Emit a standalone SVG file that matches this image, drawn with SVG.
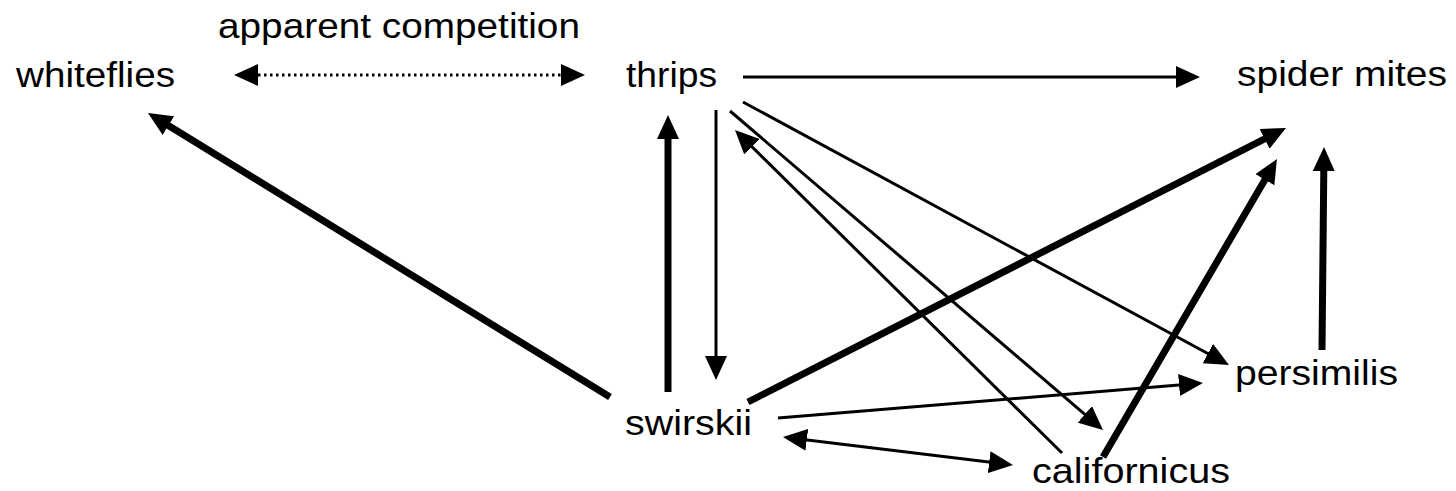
<svg xmlns="http://www.w3.org/2000/svg" width="1456" height="491" viewBox="0 0 1456 491">
<style>
text{font-family:"Liberation Sans",Arial,sans-serif;font-size:35px;fill:#000}
.c{fill:none;stroke:#000;stroke-linecap:butt}
.thin{stroke-width:3;marker-end:url(#ah)}
.thick{stroke-width:7;marker-end:url(#ah)}
.both{marker-start:url(#ah);marker-end:url(#ah)}
.dot{stroke-width:3;stroke-dasharray:2.5 3.5}
</style>
<defs>
<marker id="ah" markerUnits="userSpaceOnUse" markerWidth="24" markerHeight="22" refX="12" refY="11" orient="auto-start-reverse" viewBox="0 0 24 22">
<path d="M0,0 L24,11 L0,22 z" fill="#000"/>
</marker>
</defs>
<rect width="1456" height="491" fill="#fff"/>
<g id="connectors">
<line class="c dot both" x1="246" y1="75" x2="573" y2="75"/>
<line class="c thin" x1="743" y1="77" x2="1188" y2="77"/>
<line class="c thin" x1="716" y1="110" x2="716" y2="368"/>
<line class="c thick" x1="668" y1="392" x2="668" y2="127"/>
<line class="c thin" x1="730" y1="111" x2="1093.9" y2="422.2"/>
<line class="c thin" x1="1062" y1="453" x2="743.5" y2="138.4"/>
<line class="c thin" x1="743" y1="102" x2="1218.4" y2="359.3"/>
<line class="c thick" x1="748" y1="402" x2="1275.3" y2="133.4"/>
<line class="c thin" x1="778" y1="418" x2="1191" y2="384"/>
<line class="c thin both" x1="794.9" y1="438.4" x2="1001.1" y2="463.6"/>
<line class="c thick" x1="1103" y1="457" x2="1270.9" y2="169.4"/>
<line class="c thick" x1="1322" y1="350" x2="1323.9" y2="159"/>
<line class="c thick" x1="610" y1="397" x2="158.2" y2="119.3"/>
</g>
<g id="label-apparent"><text x="218" y="38" textLength="362" lengthAdjust="spacingAndGlyphs">apparent competition</text></g>
<g id="node-whiteflies"><text x="16" y="87" textLength="159" lengthAdjust="spacingAndGlyphs">whiteflies</text></g>
<g id="node-thrips"><text x="626" y="87" textLength="91" lengthAdjust="spacingAndGlyphs">thrips</text></g>
<g id="node-spidermites"><text x="1237" y="86" textLength="210" lengthAdjust="spacingAndGlyphs">spider mites</text></g>
<g id="node-swirskii"><text x="625" y="435" textLength="127" lengthAdjust="spacingAndGlyphs">swirskii</text></g>
<g id="node-californicus"><text x="1032" y="483" textLength="198" lengthAdjust="spacingAndGlyphs">californicus</text></g>
<g id="node-persimilis"><text x="1235" y="385" textLength="163" lengthAdjust="spacingAndGlyphs">persimilis</text></g>
</svg>
